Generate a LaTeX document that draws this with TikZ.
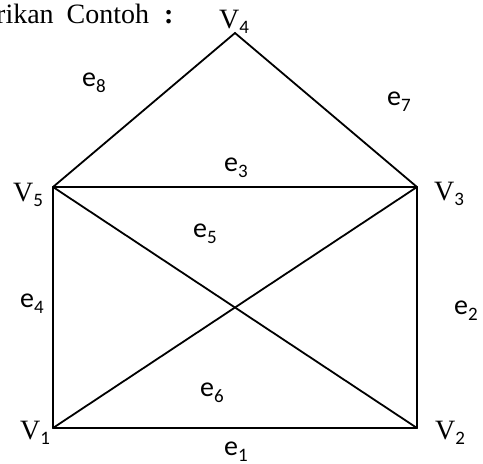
\documentclass[tikz,border=0pt]{standalone}
\usepackage{fontspec}
\setmainfont{Liberation Serif}
\newfontfamily\calib{Carlito}
\newcommand\vlab[1]{V\raisebox{-0.2em}{\calib\fontsize{19}{19}\selectfont #1}}
\newcommand\elab[1]{e\raisebox{-0.2em}{\fontsize{19}{19}\selectfont #1}}
\begin{document}
\begin{tikzpicture}[x=1pt,y=-1pt,
  edge/.style={line width=1.8pt, line cap=round},
  vtxt/.style={inner sep=0pt, font=\fontsize{28}{28}\selectfont},
  etxt/.style={inner sep=0pt, font=\calib\fontsize{28}{28}\selectfont}]
\useasboundingbox (0,0) rectangle (483,464);
\begin{scope}
\clip (0,0) rectangle (483,464);
\node[anchor=base west, inner sep=0pt, font=\fontsize{28}{28}\selectfont] (title) at (-4,23) {rikan\hspace{6pt} Contoh\hspace{8pt} \textbf{:}};
\end{scope}
\coordinate (v4) at (235,33);
\coordinate (v5) at (53,187);
\coordinate (v3) at (417,187);
\coordinate (v1) at (53,428);
\coordinate (v2) at (417,428);
\draw[edge] (v5) -- (v4) -- (v3);
\draw[edge] (v5) -- (v3);
\draw[edge] (v5) -- (v1);
\draw[edge] (v3) -- (v2);
\draw[edge] (v1) -- (v2);
\draw[edge] (v5) -- (v2);
\draw[edge] (v3) -- (v1);
\node[vtxt] (l4) at (234,22) {\vlab{4}};
\node[vtxt] (l5) at (28,195) {\vlab{5}};
\node[vtxt] (l3) at (449,194) {\vlab{3}};
\node[vtxt] (l1) at (35,433) {\vlab{1}};
\node[vtxt] (l2) at (450,433) {\vlab{2}};
\node[etxt] (e8) at (94,83) {\elab{8}};
\node[etxt] (e7) at (399,102) {\elab{7}};
\node[etxt] (e3) at (236,168) {\elab{3}};
\node[etxt] (e5) at (205,234) {\elab{5}};
\node[etxt] (e4) at (32,304) {\elab{4}};
\node[etxt] (e2) at (466,311) {\elab{2}};
\node[etxt] (e6) at (212,393) {\elab{6}};
\node[etxt] (e1) at (236,452) {\elab{1}};
\end{tikzpicture}
\end{document}
